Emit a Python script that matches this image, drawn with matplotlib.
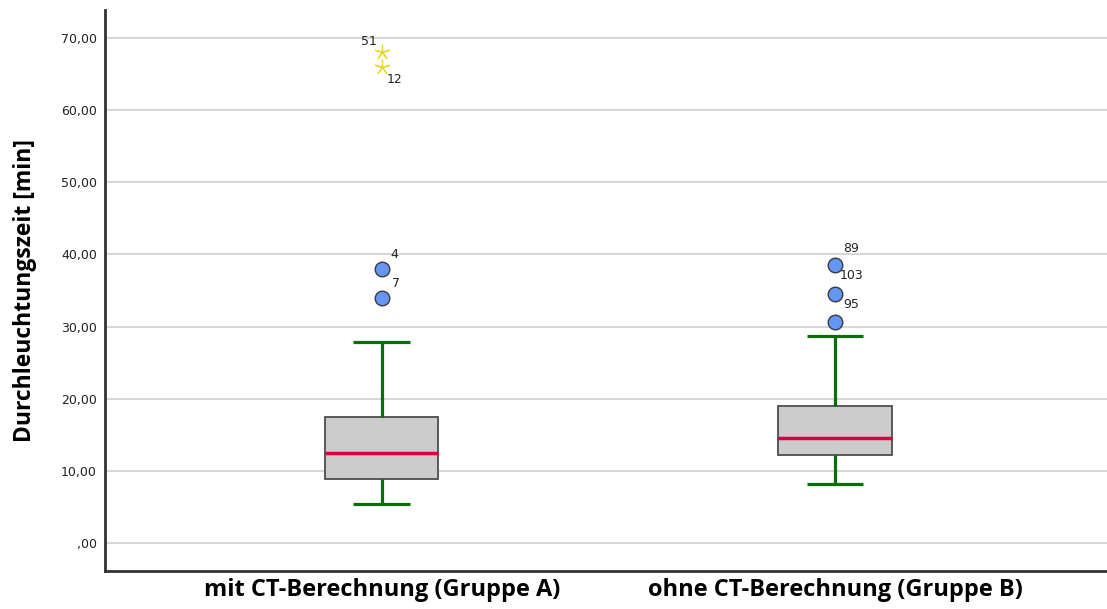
import matplotlib.pyplot as plt
from matplotlib.ticker import FuncFormatter

# Daten
gruppen = ["mit CT-Berechnung (Gruppe A)", "ohne CT-Berechnung (Gruppe B)"]
whisker_lo = [5.4, 8.2]
q1 = [8.9, 12.2]
median = [12.5, 14.5]
q3 = [17.5, 19.0]
whisker_hi = [27.9, 28.7]

ausreisser_werte = [[38.0, 34.0], [38.5, 34.5, 30.6]]
ausreisser_ids = [["4", "7"], ["89", "103", "95"]]
extrem_werte = [[68.0, 66.0], []]
extrem_ids = [["51", "12"], []]

fig = plt.figure(figsize=(11.07, 6.09), dpi=100)
ax = fig.add_axes([0.095, 0.062, 0.905, 0.922])

stats = []
for i in range(len(gruppen)):
    stats.append({
        "med": median[i], "q1": q1[i], "q3": q3[i],
        "whislo": whisker_lo[i], "whishi": whisker_hi[i],
        "fliers": [],
    })

pos = [1, 2]
ax.bxp(stats, positions=pos, widths=0.25, patch_artist=True, showfliers=False,
       boxprops=dict(facecolor="#cccccc", edgecolor="#4d4d4d", linewidth=1.3),
       medianprops=dict(color="#d6003c", linewidth=2.5, solid_capstyle="butt"),
       whiskerprops=dict(color="#0a6e0a", linewidth=2.3, solid_capstyle="butt"),
       capprops=dict(color="#0a6e0a", linewidth=2.3, solid_capstyle="butt"),
       capwidths=0.125, zorder=3)

# Ausreisser
for i, p in enumerate(pos):
    vals = ausreisser_werte[i]
    ax.scatter([p] * len(vals), vals, s=110, facecolor="#6496f5",
               edgecolor="#3a3a3a", linewidth=1.0, zorder=4)
    ext = extrem_werte[i]
    if ext:
        ax.scatter([p] * len(ext), ext, s=110, marker=(5, 2, 0),
                   color="#e6d82a", linewidth=0.9, zorder=4)

# Fallnummern
lbl = dict(fontsize=9, color="#222222", zorder=5)
ax.text(1 - 0.045, 68.0 + 1.5, extrem_ids[0][0], ha="left", va="center", **lbl)
ax.text(1 + 0.01, 66.0 - 1.8, extrem_ids[0][1], ha="left", va="center", **lbl)
ax.text(1 + 0.02, 40.0, ausreisser_ids[0][0], ha="left", va="center", **lbl)
ax.text(1 + 0.022, 36.0, ausreisser_ids[0][1], ha="left", va="center", **lbl)
ax.text(2 + 0.018, 40.8, ausreisser_ids[1][0], ha="left", va="center", **lbl)
ax.text(2 + 0.011, 37.1, ausreisser_ids[1][1], ha="left", va="center", **lbl)
ax.text(2 + 0.018, 33.0, ausreisser_ids[1][2], ha="left", va="center", **lbl)

ax.set_xlim(0.39, 2.6)
ax.set_ylim(-3.9, 73.9)
ax.set_yticks(range(0, 71, 10))
ax.yaxis.set_major_formatter(FuncFormatter(
    lambda v, _: ",00" if v == 0 else f"{int(v)},00"))
ax.set_xticks(pos)
ax.set_xticklabels(gruppen, fontsize=17, fontweight="bold", family="Open Sans")
ax.tick_params(axis="y", length=0, labelsize=9, pad=6, labelcolor="#222222")
ax.tick_params(axis="x", length=0, pad=5)
ax.grid(axis="y", color="#cfcfcf", linewidth=1.2, zorder=0)
ax.set_axisbelow(True)

for s in ["top", "right"]:
    ax.spines[s].set_visible(False)
for s in ["left", "bottom"]:
    ax.spines[s].set_color("#333333")
    ax.spines[s].set_linewidth(2)

ax.set_ylabel("Durchleuchtungszeit [min]", fontsize=16.5, fontweight="bold",
              family="Open Sans", labelpad=17)

fig.savefig("out.png", dpi=100)
